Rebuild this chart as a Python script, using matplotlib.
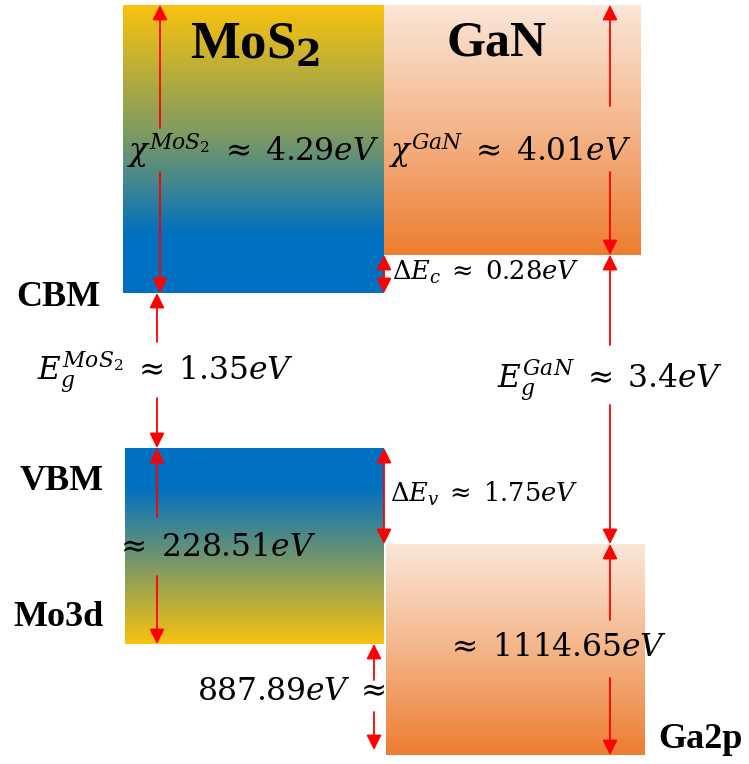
import numpy as np
import matplotlib.pyplot as plt
from matplotlib.colors import LinearSegmentedColormap

plt.rcParams['mathtext.fontset'] = 'dejavuserif'
plt.rcParams['font.family'] = 'Liberation Serif'

# band parameters (eV)
materials = ['MoS$_\\mathbf{2}$', 'GaN']
chi = [4.29, 4.01]          # electron affinity
eg = [1.35, 3.4]            # band gap
dEc = 0.28
dEv = 1.75
core_levels = ['Mo3d', 'Ga2p']
core_to_vbm = [228.51, 1114.65]
core_offset = 887.89

# schematic level heights (drawing units, top = 0), not to scale
vac = 5
cbm = [293, 255]
vbm = [448, 544]
core = [644, 755]
col_x = [(123, 384), (385, 645)]

red = '#FF0000'
mos2_top = LinearSegmentedColormap.from_list('m1', [(0, '#F9C20E'), (0.45, '#7E9A62'), (0.8, '#0070C0'), (1, '#0070C0')])
mos2_bot = LinearSegmentedColormap.from_list('m2', [(0, '#0070C0'), (0.2, '#0070C0'), (0.55, '#6E9470'), (1, '#F9C20E')])
gan_cm = LinearSegmentedColormap.from_list('g', ['#FBE6D8', '#F4B589', '#ED7D31'])

fig = plt.figure(figsize=(7.49, 7.64), dpi=100)
ax = fig.add_axes([0, 0, 1, 1])
ax.set_xlim(0, 749)
ax.set_ylim(764, 0)
ax.axis('off')

grad = np.linspace(0, 1, 256).reshape(-1, 1)


def block(x0, x1, y0, y1, cmap):
    ax.imshow(grad, cmap=cmap, extent=(x0, x1, y1, y0), aspect='auto', zorder=1)


block(col_x[0][0], col_x[0][1], vac, cbm[0], mos2_top)
block(col_x[1][0] - 1, col_x[1][1] - 4, vac, cbm[1], gan_cm)
block(col_x[0][0] + 2, col_x[0][1], vbm[0], core[0], mos2_bot)
block(col_x[1][0] + 1, col_x[1][1], vbm[1], core[1], gan_cm)
ax.set_xlim(0, 749)
ax.set_ylim(764, 0)


def arrow(x, y_from, y_to):
    ax.annotate('', xy=(x, y_to), xytext=(x, y_from),
                arrowprops=dict(arrowstyle='-|>,head_length=0.9,head_width=0.45',
                                color=red, lw=1.3, shrinkA=0, shrinkB=0), zorder=3)


def split_arrow(x, top, bottom, gap_top, gap_bottom):
    arrow(x, gap_top, top)
    arrow(x, gap_bottom, bottom)


def double_arrow(x, top, bottom):
    ax.annotate('', xy=(x, bottom), xytext=(x, top),
                arrowprops=dict(arrowstyle='<|-|>,head_length=0.9,head_width=0.45',
                                color=red, lw=1.3, shrinkA=0, shrinkB=0), zorder=3)


fs = 22.5
sm = 18.5
ap = r'\;\approx\;'
# electron affinities
split_arrow(160, vac, cbm[0], 128, 172)
ax.text(253, 150, r'$\chi^{MoS_2}%s%.2f eV$' % (ap, chi[0]), fontsize=fs, ha='center', va='center', zorder=4)
split_arrow(610, vac, cbm[1], 106, 172)
ax.text(510, 150, r'$\chi^{GaN}%s%.2f eV$' % (ap, chi[1]), fontsize=fs, ha='center', va='center', zorder=4)

# conduction band offset
double_arrow(384, cbm[1], cbm[0])
ax.text(392, 272, r'$\mathit{\Delta}E_c%s%.2f eV$' % (ap, dEc), fontsize=sm, ha='left', va='center', zorder=4)

# band gaps
split_arrow(157, cbm[0], vbm[0], 342, 398)
ax.text(166, 372, r'$E_g^{MoS_2}%s%.2f eV$' % (ap, eg[0]), fontsize=fs, ha='center', va='center', zorder=4)
split_arrow(610, cbm[1], vbm[1], 345, 405)
ax.text(610, 380, r'$E_g^{GaN}%s%.1f eV$' % (ap, eg[1]), fontsize=fs, ha='center', va='center', zorder=4)

# valence band offset
double_arrow(384, vbm[0], vbm[1])
ax.text(390, 494, r'$\mathit{\Delta}E_v%s%.2f eV$' % (ap, dEv), fontsize=sm, ha='left', va='center', zorder=4)

# core level separations
split_arrow(157, vbm[0], core[0], 517, 576)
ax.text(216, 548, r'$\approx\;%.2f eV$' % core_to_vbm[0], fontsize=fs, ha='center', va='center', zorder=4)
split_arrow(610, vbm[1], core[1], 620, 678)
ax.text(557, 648, r'$\approx\;%.2f eV$' % core_to_vbm[1], fontsize=fs, ha='center', va='center', zorder=4)
split_arrow(374, core[0], 750, 680, 712)
ax.text(385, 693, r'$%.2f eV\;\approx$' % core_offset, fontsize=fs, ha='right', va='center', zorder=4)

# material and level labels
ax.text(255, 46, materials[0], fontsize=38, fontweight='bold', ha='center', va='center', zorder=4)
ax.text(497, 44, materials[1], fontsize=36, fontweight='bold', ha='center', va='center', zorder=4)
ax.text(58, 298, 'CBM', fontsize=26, fontweight='bold', ha='center', va='center')
ax.text(62, 482, 'VBM', fontsize=26, fontweight='bold', ha='center', va='center')
ax.text(58, 618, core_levels[0], fontsize=26, fontweight='bold', ha='center', va='center')
ax.text(700, 740, core_levels[1], fontsize=26, fontweight='bold', ha='center', va='center')

fig.savefig('out.png', dpi=100)
